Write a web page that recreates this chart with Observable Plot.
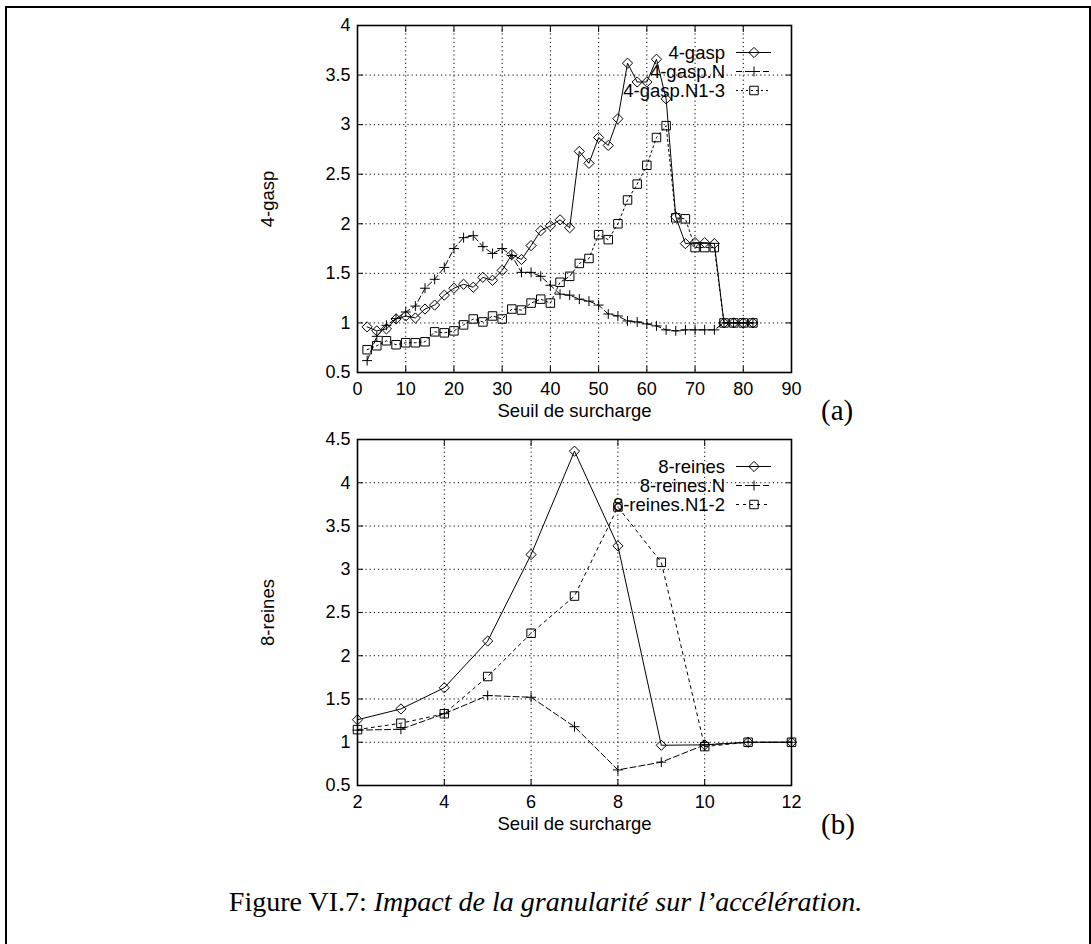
<!DOCTYPE html>
<html>
<head>
<meta charset="utf-8">
<script src="https://cdn.jsdelivr.net/npm/d3@7"></script>
<script src="https://cdn.jsdelivr.net/npm/@observablehq/plot@0.6"></script>
<style>
  html, body { margin: 0; padding: 0; background: #fff; }
  #page { position: relative; width: 1091px; height: 944px; overflow: hidden; background: #fff; }
  #border { position: absolute; left: 5px; top: 6px; width: 1086px; height: 1000px; border: 2px solid #000; box-sizing: border-box; }
  .chart { position: absolute; left: 0; }
  .tag { position: absolute; font-family: "Liberation Serif", "Times New Roman", serif; font-size: 29px; line-height: 30px; color: #000; }
  #caption { position: absolute; left: 0; width: 1091px; top: 887px; text-align: center; font-family: "Liberation Serif", "Times New Roman", serif; font-size: 28px; line-height: 30px; color: #000; }
</style>
</head>
<body>
<div id="page">
  <div id="border"></div>
  <div id="chartA" class="chart" style="top:0px"></div>
  <div id="chartB" class="chart" style="top:420px"></div>
  <div class="tag" style="left:821px; top:395px">(a)</div>
  <div class="tag" style="left:821px; top:809px">(b)</div>
  <div id="caption">Figure VI.7: <i>Impact de la granularité sur l’accélération.</i></div>
</div>
<script>
// ---------- Data: chart (a) ----------
const xA = [2,4,6,8,10,12,14,16,18,20,22,24,26,28,30,32,34,36,38,40,42,44,46,48,50,52,54,56,58,60,62,64,66,68,70,72,74,76,78,80,82];
const gasp = [0.96,0.92,0.94,1.04,1.07,1.05,1.14,1.18,1.28,1.35,1.39,1.36,1.46,1.43,1.53,1.69,1.64,1.78,1.93,1.98,2.04,1.96,
              2.73,2.61,2.87,2.79,3.06,3.62,3.43,3.43,3.66,3.26,
              2.07,1.80,1.81,1.81,1.80,1.0,1.0,1.0,1.0];
const gaspN = [0.62,0.865,0.976,1.044,1.11,1.17,1.35,1.44,1.56,1.75,1.86,1.88,1.77,1.70,1.75,1.68,1.51,1.51,1.47,1.38,1.29,1.28,
               1.24,1.22,1.18,1.09,1.07,1.02,1.01,0.99,0.97,0.93,0.92,0.93,0.93,0.93,0.93,
               1.0,1.0,1.0,1.0];
const gaspN13 = [0.73,0.77,0.82,0.78,0.80,0.80,0.81,0.91,0.90,0.92,0.98,1.04,1.01,1.07,1.04,1.14,1.13,1.20,1.24,1.20,1.41,1.47,
                 1.60,1.65,1.89,1.84,2.00,2.24,2.40,2.59,2.87,2.99,
                 2.06,2.05,1.76,1.76,1.76,1.0,1.0,1.0,1.0];
const xTicksA = [0,10,20,30,40,50,60,70,80,90];
const yTicksA = [0.5,1,1.5,2,2.5,3,3.5,4];
const seriesNamesA = ["4-gasp","4-gasp.N","4-gasp.N1-3"];

// ---------- Data: chart (b) ----------
const xB = [2,3,4,5,6,7,8,9,10,11,12];
const reines = [1.26,1.385,1.63,2.17,3.17,4.365,3.27,0.965,0.97,1.0,1.0];
const reinesN = [1.14,1.15,1.33,1.54,1.52,1.18,0.68,0.77,0.97,1.0,1.0];
const reinesN12 = [1.146,1.22,1.33,1.76,2.26,2.69,3.72,3.08,0.95,1.0,1.0];
const xTicksB = [2,4,6,8,10,12];
const yTicksB = [0.5,1,1.5,2,2.5,3,3.5,4,4.5];
const seriesNamesB = ["8-reines","8-reines.N","8-reines.N1-2"];

const xLabel = "Seuil de surcharge";

// ---------- styles ----------
const styles = [
  {symbol: "diamond2", r: 4.6, dash: null},
  {symbol: "plus", r: 3.3, dash: "6,3"},
  {symbol: "square2", r: 5.4, dash: "2,3"}
];
const stylesB = [
  {symbol: "diamond2", r: 4.6, dash: null},
  {symbol: "plus", r: 3.3, dash: "6,3"},
  {symbol: "square2", r: 5.4, dash: "3,4"}
];

function rows(xs, ys) { return xs.map((x, i) => ({x, y: ys[i]})); }

function makeChart({xs, seriesVals, names, sty, xTicks, yTicks, xDomain, yDomain, yLabel, marginTop, plotH, height}) {
  const W = 1091, mL = 357, mR = 300;
  const marks = [
    Plot.gridX(xTicks.filter(t => t !== xDomain[0] && t !== xDomain[1]), {stroke: "#000", strokeOpacity: 1, strokeWidth: 1, strokeDasharray: "1.2,3"}),
    Plot.gridY(yTicks.filter(t => t !== yDomain[0] && t !== yDomain[1]), {stroke: "#000", strokeOpacity: 1, strokeWidth: 1, strokeDasharray: "1.2,3"}),
    Plot.axisX(xTicks, {anchor: "bottom", tickSize: -6, tickPadding: 16, tickFormat: d => String(d), label: null, fontSize: 18}),
    Plot.axisX({anchor: "bottom", ticks: [], label: xLabel, labelAnchor: "center", labelOffset: 44, labelArrow: "none", fontSize: 18.5, tickSize: 0}),
    Plot.axisX(xTicks, {anchor: "top", tickSize: -6, tickFormat: () => "", label: null}),
    Plot.axisY(yTicks, {anchor: "left", tickSize: -6, tickPadding: 13, tickFormat: d => String(d), label: null, fontSize: 18}),
    Plot.axisY({anchor: "left", ticks: [], label: yLabel, labelAnchor: "center", labelOffset: 97, labelArrow: "none", fontSize: 18.5, tickSize: 0}),
    Plot.axisY(yTicks, {anchor: "right", tickSize: -6, tickFormat: () => "", label: null})
  ];
  seriesVals.forEach((vals, k) => {
    const d = rows(xs, vals);
    marks.push(Plot.line(d, {x: "x", y: "y", stroke: "#000", strokeWidth: 1, strokeDasharray: sty[k].dash}));
    marks.push(Plot.dot(d, {x: "x", y: "y", symbol: () => sty[k].symbol, r: sty[k].r, stroke: "#000", fill: "none", strokeWidth: 1}));
  });
  marks.push(Plot.frame({stroke: "#000", strokeWidth: 1.6}));
  const svg = Plot.plot({
    width: W, height,
    marginLeft: mL, marginRight: mR, marginTop, marginBottom: height - marginTop - plotH,
    x: {domain: xDomain},
    y: {domain: yDomain},
    style: {fontFamily: "'Liberation Sans', Arial, Helvetica, sans-serif", fontSize: "18px", color: "#000", background: "transparent", overflow: "visible"},
    marks
  });
  // legend (inside plot, top-right)
  const g = d3.select(svg).append("g").attr("class", "legend");
  const right = W - mR;
  const symMap = {diamond2: d3.symbolDiamond2, plus: d3.symbolPlus, square2: d3.symbolSquare2};
  names.forEach((name, k) => {
    const yy = marginTop + 27.5 + k * 19;
    g.append("text").attr("x", right - 66).attr("y", yy).attr("text-anchor", "end").attr("dy", "0.35em")
      .attr("font-family", "'Liberation Sans', Arial, sans-serif").attr("font-size", 18.5).attr("fill", "#000").text(name);
    g.append("line").attr("x1", right - 55).attr("x2", right - 20).attr("y1", yy).attr("y2", yy)
      .attr("stroke", "#000").attr("stroke-width", 1).attr("stroke-dasharray", sty[k].dash);
    g.append("path").attr("transform", `translate(${right - 37},${yy})`)
      .attr("d", d3.symbol(symMap[sty[k].symbol], Math.PI * sty[k].r * sty[k].r)())
      .attr("fill", "none").attr("stroke", "#000").attr("stroke-width", 1);
  });
  return svg;
}

document.getElementById("chartA").append(makeChart({
  xs: xA, seriesVals: [gasp, gaspN, gaspN13], names: seriesNamesA, sty: styles,
  xTicks: xTicksA, yTicks: yTicksA, xDomain: [0, 90], yDomain: [0.5, 4], yLabel: "4-gasp",
  marginTop: 25, plotH: 347, height: 430
}));
document.getElementById("chartB").append(makeChart({
  xs: xB, seriesVals: [reines, reinesN, reinesN12], names: seriesNamesB, sty: stylesB,
  xTicks: xTicksB, yTicks: yTicksB, xDomain: [2, 12], yDomain: [0.5, 4.5], yLabel: "8-reines",
  marginTop: 19, plotH: 346, height: 423
}));
</script>
</body>
</html>
